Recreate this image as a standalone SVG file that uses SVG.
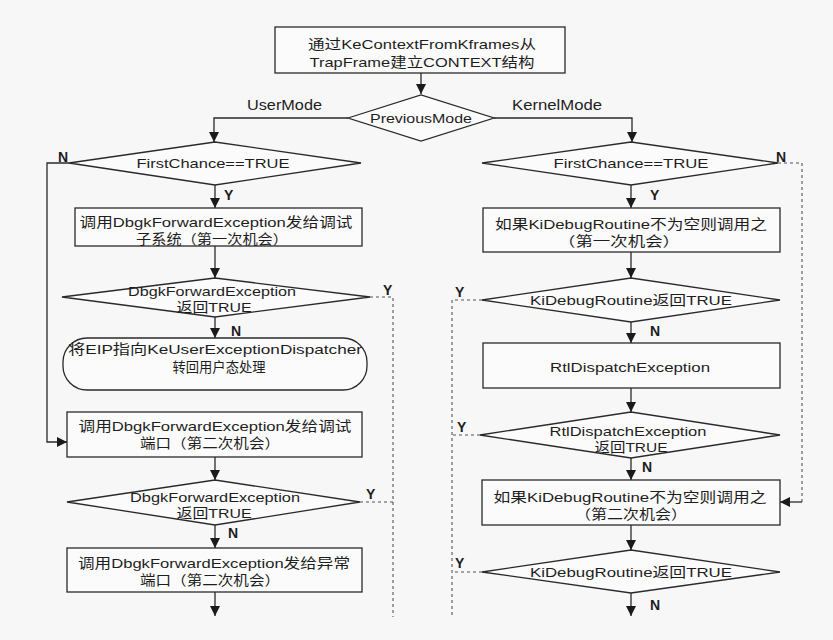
<svg xmlns="http://www.w3.org/2000/svg" width="833" height="640" viewBox="0 0 833 640">
<defs>
<marker id="ah" markerUnits="userSpaceOnUse" markerWidth="10" markerHeight="12" refX="10" refY="5" orient="auto">
<path d="M0,0 L10,5 L0,10 Z" fill="#1a1a1a"/>
</marker>
<style>
.bg{fill:#f7f7f7}
.n{fill:#fbfbfb;stroke:#2a2a2a;stroke-width:1.3}
.c{fill:none;stroke:#2a2a2a;stroke-width:1.3}
.d{fill:none;stroke:#555;stroke-width:1.1;stroke-dasharray:3 3}
.t{font-family:"Liberation Sans","Noto Sans CJK SC",sans-serif;font-size:13.5px;fill:#1e1e1e;text-anchor:middle;dominant-baseline:central}
.l{font-family:"Liberation Sans","Noto Sans CJK SC",sans-serif;font-size:14px;fill:#1e1e1e;dominant-baseline:central;font-weight:bold}
</style>
</defs>
<rect class="bg" x="0" y="0" width="833" height="640"/>

<g id="connectors">
<line class="c" x1="421" y1="73" x2="421" y2="94" marker-end="url(#ah)"/>
<polyline class="c" points="348,118 214,118 214,142" marker-end="url(#ah)"/>
<polyline class="c" points="494,118 632,118 632,142" marker-end="url(#ah)"/>
<text class="l" x="247" y="105" textLength="75" lengthAdjust="spacingAndGlyphs" style="font-weight:normal;font-size:14px">UserMode</text>
<text class="l" x="512" y="105" textLength="90" lengthAdjust="spacingAndGlyphs" style="font-weight:normal;font-size:14px">KernelMode</text>

<!-- left column -->
<polyline class="c" points="69,163 47,163 47,442 67,442" marker-end="url(#ah)"/>
<text class="l" x="58" y="157">N</text>
<line class="c" x1="215" y1="185" x2="215" y2="208" marker-end="url(#ah)"/>
<text class="l" x="224" y="195">Y</text>
<line class="c" x1="215" y1="246" x2="215" y2="278" marker-end="url(#ah)"/>
<polyline class="d" points="370,297 393,297 393,617"/>
<text class="l" x="383" y="290">Y</text>
<line class="c" x1="215" y1="317" x2="215" y2="338" marker-end="url(#ah)"/>
<text class="l" x="231" y="331">N</text>
<line class="c" x1="215" y1="457" x2="215" y2="480" marker-end="url(#ah)"/>
<polyline class="d" points="360,502 393,502"/>
<text class="l" x="366" y="494">Y</text>
<line class="c" x1="215" y1="525" x2="215" y2="548" marker-end="url(#ah)"/>
<text class="l" x="228" y="533">N</text>
<line class="c" x1="215" y1="592" x2="215" y2="616" marker-end="url(#ah)"/>

<!-- right column -->
<polyline class="d" points="778,163 802,163 802,502"/>
<line class="c" x1="802" y1="502" x2="780" y2="502" marker-end="url(#ah)"/>
<text class="l" x="776" y="157">N</text>
<line class="c" x1="631" y1="185" x2="631" y2="208" marker-end="url(#ah)"/>
<text class="l" x="650" y="195">Y</text>
<line class="c" x1="631" y1="252" x2="631" y2="278" marker-end="url(#ah)"/>
<polyline class="d" points="482,300 452,300 452,615"/>
<text class="l" x="455" y="292">Y</text>
<line class="c" x1="631" y1="322" x2="631" y2="343" marker-end="url(#ah)"/>
<text class="l" x="650" y="331">N</text>
<line class="c" x1="631" y1="388" x2="631" y2="412" marker-end="url(#ah)"/>
<polyline class="d" points="480,435 452,435"/>
<text class="l" x="457" y="427">Y</text>
<line class="c" x1="631" y1="458" x2="631" y2="480" marker-end="url(#ah)"/>
<text class="l" x="642" y="467">N</text>
<line class="c" x1="631" y1="525" x2="631" y2="550" marker-end="url(#ah)"/>
<polyline class="d" points="482,572 452,572"/>
<text class="l" x="455" y="563">Y</text>
<line class="c" x1="631" y1="593" x2="631" y2="616" marker-end="url(#ah)"/>
<text class="l" x="650" y="605">N</text>
</g>

<g id="start">
<rect class="n" x="275" y="27" width="290" height="46"/>
<text class="t" x="422" y="44" textLength="228" lengthAdjust="spacingAndGlyphs">通过KeContextFromKframes从</text>
<text class="t" x="422" y="62" textLength="225" lengthAdjust="spacingAndGlyphs">TrapFrame建立CONTEXT结构</text>
</g>

<g id="prevmode">
<polygon class="n" points="348,118 421,95 494,118 421,141"/>
<text class="t" x="421" y="118" textLength="102" lengthAdjust="spacingAndGlyphs">PreviousMode</text>
</g>

<g id="l-firstchance">
<polygon class="n" points="69,163 215,142 361,163 215,185"/>
<text class="t" x="213" y="163" textLength="153" lengthAdjust="spacingAndGlyphs">FirstChance==TRUE</text>
</g>

<g id="l-box1">
<rect class="n" x="75" y="208" width="287" height="38"/>
<text class="t" x="216" y="222" textLength="273" lengthAdjust="spacingAndGlyphs">调用DbgkForwardException发给调试</text>
<text class="t" x="212" y="239" textLength="152" lengthAdjust="spacingAndGlyphs">子系统（第一次机会）</text>
</g>

<g id="l-dia2">
<polygon class="n" points="62,297 215,278 370,297 215,317"/>
<text class="t" x="212" y="291" textLength="168" lengthAdjust="spacingAndGlyphs">DbgkForwardException</text>
<text class="t" x="214" y="307" textLength="75" lengthAdjust="spacingAndGlyphs">返回TRUE</text>
</g>

<g id="l-user">
<rect class="n" x="63" y="338" width="304" height="52" rx="24" ry="24"/>
<text class="t" x="215" y="349" textLength="294" lengthAdjust="spacingAndGlyphs">将EIP指向KeUserExceptionDispatcher</text>
<text class="t" x="219" y="367" textLength="93" lengthAdjust="spacingAndGlyphs">转回用户态处理</text>
</g>

<g id="l-box2">
<rect class="n" x="67" y="412" width="295" height="45"/>
<text class="t" x="215" y="426" textLength="273" lengthAdjust="spacingAndGlyphs">调用DbgkForwardException发给调试</text>
<text class="t" x="210" y="443" textLength="140" lengthAdjust="spacingAndGlyphs">端口（第二次机会）</text>
</g>

<g id="l-dia3">
<polygon class="n" points="67,502 215,480 360,502 215,525"/>
<text class="t" x="215" y="497" textLength="170" lengthAdjust="spacingAndGlyphs">DbgkForwardException</text>
<text class="t" x="214" y="513" textLength="75" lengthAdjust="spacingAndGlyphs">返回TRUE</text>
</g>

<g id="l-box3">
<rect class="n" x="67" y="548" width="295" height="44"/>
<text class="t" x="214" y="563" textLength="272" lengthAdjust="spacingAndGlyphs">调用DbgkForwardException发给异常</text>
<text class="t" x="210" y="580" textLength="140" lengthAdjust="spacingAndGlyphs">端口（第二次机会）</text>
</g>

<g id="r-firstchance">
<polygon class="n" points="482,163 631,142 778,163 631,185"/>
<text class="t" x="631" y="163" textLength="155" lengthAdjust="spacingAndGlyphs">FirstChance==TRUE</text>
</g>

<g id="r-box1">
<rect class="n" x="483" y="208" width="297" height="44"/>
<text class="t" x="631" y="224" textLength="272" lengthAdjust="spacingAndGlyphs">如果KiDebugRoutine不为空则调用之</text>
<text class="t" x="619" y="241" textLength="122" lengthAdjust="spacingAndGlyphs">（第一次机会）</text>
</g>

<g id="r-dia2">
<polygon class="n" points="482,300 631,278 780,300 631,322"/>
<text class="t" x="631" y="300" textLength="202" lengthAdjust="spacingAndGlyphs">KiDebugRoutine返回TRUE</text>
</g>

<g id="r-rtl">
<rect class="n" x="483" y="343" width="297" height="45"/>
<text class="t" x="630" y="367" textLength="160" lengthAdjust="spacingAndGlyphs">RtlDispatchException</text>
</g>

<g id="r-dia3">
<polygon class="n" points="480,435 631,412 780,435 631,458"/>
<text class="t" x="628" y="431" textLength="157" lengthAdjust="spacingAndGlyphs">RtlDispatchException</text>
<text class="t" x="631" y="447" textLength="73" lengthAdjust="spacingAndGlyphs">返回TRUE</text>
</g>

<g id="r-box2">
<rect class="n" x="482" y="480" width="298" height="45"/>
<text class="t" x="630" y="497" textLength="273" lengthAdjust="spacingAndGlyphs">如果KiDebugRoutine不为空则调用之</text>
<text class="t" x="631" y="514" textLength="112" lengthAdjust="spacingAndGlyphs">（第二次机会）</text>
</g>

<g id="r-dia4">
<polygon class="n" points="482,572 631,550 780,572 631,593"/>
<text class="t" x="631" y="572" textLength="202" lengthAdjust="spacingAndGlyphs">KiDebugRoutine返回TRUE</text>
</g>
</svg>
